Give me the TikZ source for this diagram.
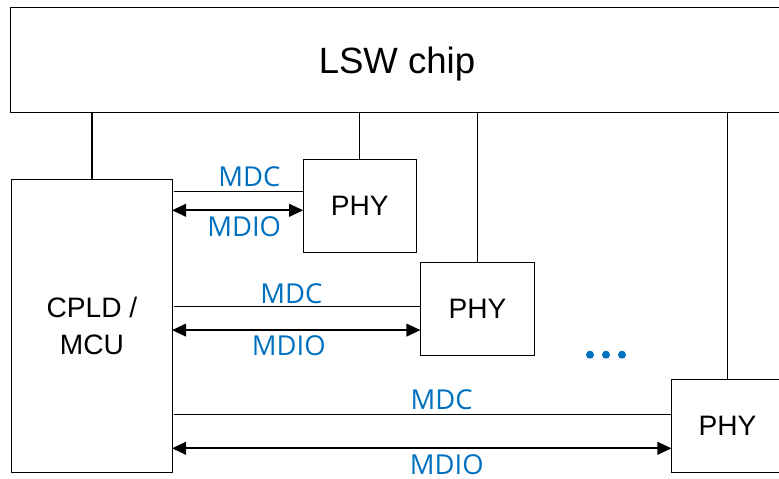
\documentclass[tikz,border=0pt]{standalone}
\usepackage{fontspec}
\setmainfont{Liberation Sans}
\newfontfamily\lblfont{Open Sans}
\usetikzlibrary{arrows.meta, backgrounds}
\definecolor{mdblue}{RGB}{0,112,192}
\tikzset{
  block/.style = {
    rectangle, draw=black, line width=0.7pt, outer sep=0pt,
    align=center, font=\fontsize{20}{26}\selectfont
  },
  phy/.style = {
    block, minimum height=2.325cm
  },
  lbl/.style = {
    font=\lblfont\fontsize{19.5}{22}\selectfont, text=mdblue, inner sep=0pt
  },
  bus/.style = { draw=black, line width=0.8pt },
  mdc/.style = { draw=black, line width=0.9pt, shorten >=1.4pt },
  mdio/.style = {
    draw=black, line width=1.4pt,
    {Triangle[length=10pt, width=9pt]}-{Triangle[length=10pt, width=9pt]}
  }
}

\begin{document}
\begin{tikzpicture}[x=0.025cm, y=-0.025cm]

    \useasboundingbox (0,0) rectangle (779,479);

    % ------------------------------------------------------------- Blocks
    \node [block, minimum width=19.3cm, minimum height=2.6cm, text depth=0pt,
           font=\fontsize{26}{30}\selectfont] (lsw) at (397, 60) {LSW chip};
    \node [block, minimum width=4cm, minimum height=7.3cm] (cpld) at (92, 326) {CPLD /\\MCU};

    % --------------------------------------------------------------- PHYs
    \node [phy, minimum width=2.825cm] (phy1) at (359.7, 205.8) {PHY};
    \node [phy, minimum width=2.85cm]  (phy2) at (477.5, 309.3) {PHY};
    \node [phy, minimum width=2.8cm]   (phy3) at (727.5, 426)   {PHY};

    % ----------------------------------------------------------- Ellipsis
    \fill [mdblue] (590, 354.7) circle (4) (606, 354.7) circle (4) (622, 354.7) circle (4);

    % ----------------------------------------- Connectors (behind the shapes)
    \begin{scope}[on background layer]

      % -------- to LSW chip
      \draw [bus] (cpld.north) -- (cpld.north |- lsw.south);
      \draw [bus] (phy1.north) -- (phy1.north |- lsw.south);
      \draw [bus] (phy2.north) -- (phy2.north |- lsw.south);
      \draw [bus] (phy3.north) -- (phy3.north |- lsw.south);

      % -------- first PHY
      \coordinate (c1) at ([yshift=0.3625cm]phy1.west);
      \draw [mdc] (c1) -- (c1 -| cpld.east)
        node [lbl, pos=0.41, above=3pt] (mdc1) {MDC};
      \coordinate (d1) at ([yshift=-0.1125cm]phy1.west);
      \draw [mdio] (cpld.east |- d1) -- (d1)
        node [lbl, pos=0.55, below=3.5pt] (mdio1) {MDIO};

      % -------- second PHY
      \coordinate (c2) at ([yshift=0.065cm]phy2.west);
      \draw [mdc] (c2) -- (c2 -| cpld.east)
        node [lbl, pos=0.52, above=1.5pt] (mdc2) {MDC};
      \coordinate (d2) at ([yshift=-0.52cm]phy2.west);
      \draw [mdio] (cpld.east |- d2) -- (d2)
        node [lbl, pos=0.47, below=3pt] (mdio2) {MDIO};

      % -------- third PHY
      \coordinate (c3) at ([yshift=0.29cm]phy3.west);
      \draw [mdc] (c3) -- (c3 -| cpld.east)
        node [lbl, pos=0.46, above=2.5pt] (mdc3) {MDC};
      \coordinate (d3) at ([yshift=-0.5575cm]phy3.west);
      \draw [mdio] (cpld.east |- d3) -- (d3)
        node [lbl, pos=0.55, below=3.8pt] (mdio3) {MDIO};

    \end{scope}

  \end{tikzpicture}
\end{document}
